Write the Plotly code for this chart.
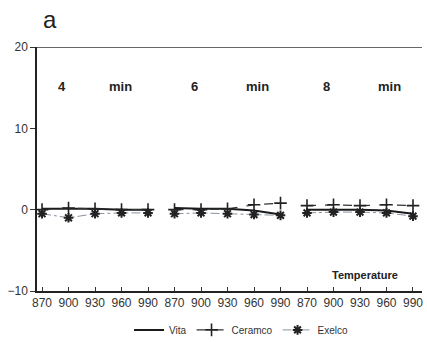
import plotly.graph_objects as go

temps = ["870", "900", "930", "960", "990"]
groups = ["4", "6", "8"]
vita = [[0.1, 0.1, 0.1, 0.0, 0.0],
        [0.2, 0.1, 0.1, -0.1, -0.6],
        [0.0, 0.0, 0.0, -0.1, -0.5]]
ceramco = [[0.0, 0.2, 0.1, 0.0, 0.0],
           [0.0, 0.0, 0.1, 0.6, 0.8],
           [0.5, 0.6, 0.5, 0.6, 0.5]]
exelco = [[-0.5, -1.0, -0.5, -0.4, -0.4],
          [-0.5, -0.4, -0.5, -0.6, -0.7],
          [-0.4, -0.3, -0.3, -0.4, -0.8]]

n = len(temps)
xs, labels = [], []
for g in range(len(groups)):
    for i, t in enumerate(temps):
        xs.append(g * n + i)
        labels.append(t)

def series(vals):
    x, y = [], []
    for g, row in enumerate(vals):
        for i, v in enumerate(row):
            x.append(g * n + i)
            y.append(v)
        x.append(None)
        y.append(None)
    return x, y

fig = go.Figure()
x, y = series(vita)
fig.add_trace(go.Scatter(x=x, y=y, name="Vita", mode="lines",
                         line=dict(color="#1a1a1a", width=2)))
x, y = series(ceramco)
fig.add_trace(go.Scatter(x=x, y=y, name="Ceramco", mode="lines+markers",
                         line=dict(color="#333", width=1.2, dash="dash"),
                         marker=dict(symbol="cross-thin-open", size=9, color="#222",
                                     line=dict(color="#222", width=1.6))))
x, y = series(exelco)
fig.add_trace(go.Scatter(x=x, y=y, name="Exelco", mode="lines+markers",
                         line=dict(color="#8a93a3", width=1, dash="dashdot"),
                         marker=dict(symbol="asterisk-open", size=8, color="#222",
                                     line=dict(color="#222", width=2))))

font = "Liberation Sans, Arial, sans-serif"
ann = [dict(text="a", x=0.01, y=1.05, xref="paper", yref="paper",
            xanchor="left", yanchor="bottom",
            font=dict(size=24, color="#222"), showarrow=False)]
ann_pos = [(0.75, "4"), (2.95, "min"), (5.75, "6"), (8.15, "min"), (10.75, "8"), (13.1, "min")]
for xp, t in ann_pos:
    ann.append(dict(text="<b>%s</b>" % t, x=xp, y=15.1, xref="x", yref="y",
                    showarrow=False, font=dict(size=13, color="#222")))
ann.append(dict(text="<b>Temperature</b>", x=12.2, y=-8.0, xref="x", yref="y",
                showarrow=False, font=dict(size=11, color="#222")))

fig.update_layout(
    width=427, height=342,
    margin=dict(l=37, r=5, t=47, b=51, autoexpand=False),
    paper_bgcolor="white", plot_bgcolor="white",
    font=dict(family=font, color="#333"),
    showlegend=True,
    legend=dict(orientation="h", x=0.53, xanchor="center", y=-0.1, yanchor="top",
                font=dict(size=10, color="#333"), itemwidth=30, tracegroupgap=0),
    annotations=ann,
    shapes=[dict(type="line", xref="paper", yref="y", x0=0, x1=1, y0=20, y1=20,
                 line=dict(color="#333", width=1.5))],
)
fig.update_xaxes(range=[-0.19, 14.34], tickmode="array", tickvals=xs, ticktext=labels,
                 ticks="inside", ticklen=4, tickcolor="#333", showgrid=False,
                 zeroline=False, showline=True, linecolor="#222", linewidth=1.5,
                 tickfont=dict(size=12, color="#333"))
fig.update_yaxes(range=[-10, 20], tickvals=[-10, 0, 10, 20], ticks="outside",
                 ticklen=5, tickcolor="#333", showgrid=False, zeroline=False,
                 showline=True, linecolor="#222", linewidth=1.5,
                 tickfont=dict(size=12, color="#333"))

fig.write_html("out.html")
